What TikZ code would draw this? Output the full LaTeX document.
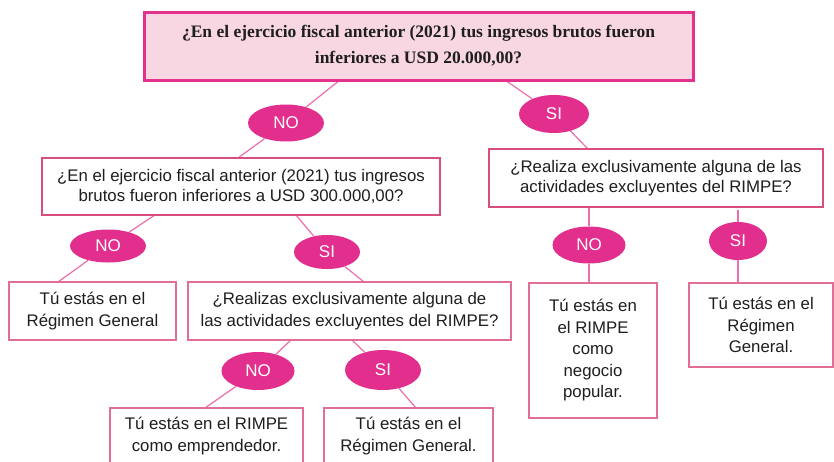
\documentclass[tikz,border=0pt]{standalone}
\usepackage{fontspec}
\setmainfont{Liberation Sans}
\newfontfamily\serifb{Liberation Serif}
\usetikzlibrary{shapes.geometric}
\definecolor{mag}{RGB}{226,46,140}
\definecolor{topfill}{RGB}{248,215,227}
\definecolor{topb}{RGB}{228,50,140}
\definecolor{thickb}{RGB}{216,78,124}
\definecolor{thinb}{RGB}{224,110,150}
\definecolor{conncol}{RGB}{236,110,170}
\definecolor{txt}{RGB}{30,30,30}
\tikzset{
  qtop/.style={draw=topb, line width=3pt, fill=topfill, align=center, text=txt, inner sep=0pt,
    font=\serifb\bfseries\fontsize{17.5}{26}\selectfont},
  qbox/.style={draw=thickb, line width=2.6pt, fill=white, align=center, text=txt, inner sep=0pt,
    font=\fontsize{16.8}{20.5}\selectfont},
  rbox/.style={draw=thinb, line width=1.2pt, fill=white, align=center, text=txt, inner sep=0pt,
    font=\fontsize{16.8}{21.5}\selectfont},
  ans/.style={ellipse, fill=mag, text=white, inner sep=0pt, font=\fontsize{17}{19}\selectfont},
  conn/.style={draw=conncol, line width=1.2pt}
}
\begin{document}
\begin{tikzpicture}[x=1pt,y=-1pt]
\useasboundingbox (0,0) rectangle (834,461);
\clip (0,0) rectangle (834,461);
\fill[white] (0,0) rectangle (834,461);
% answer ellipses
\node[ans, minimum width=76pt, minimum height=37pt] (n1) at (286,123) {NO};
\node[ans, minimum width=70pt, minimum height=38pt] (s1) at (554,114) {SI};
\node[ans, minimum width=76pt, minimum height=33pt] (n2) at (108,246) {NO};
\node[ans, minimum width=66pt, minimum height=34pt] (s2) at (327,252) {SI};
\node[ans, minimum width=73pt, minimum height=38pt] (n3) at (258,371) {NO};
\node[ans, minimum width=76pt, minimum height=40pt] (s3) at (383,370) {SI};
\node[ans, minimum width=73pt, minimum height=37pt] (n4) at (589,245) {NO};
\node[ans, minimum width=58pt, minimum height=38pt] (s4) at (738,241) {SI};
% connector end points on boxes
\coordinate (a1) at (340,80);
\coordinate (a2) at (505,80);
\coordinate (b1) at (238,158);
\coordinate (b2) at (588,149);
\coordinate (c1) at (155,215);
\coordinate (c2) at (296,215);
\coordinate (d1) at (58,282);
\coordinate (d2) at (364,282);
\coordinate (e1) at (291,340);
\coordinate (e2) at (352,340);
\coordinate (f1) at (205,408);
\coordinate (f2) at (416,408);
\coordinate (g1) at (589,207);
\coordinate (g2) at (589,283);
\coordinate (h1) at (738,210);
\coordinate (h2) at (738,283);
\draw[conn] (a1) -- (n1);
\draw[conn] (n1) -- (b1);
\draw[conn] (a2) -- (s1);
\draw[conn] (s1) -- (b2);
\draw[conn] (c1) -- (n2);
\draw[conn] (n2) -- (d1);
\draw[conn] (c2) -- (s2);
\draw[conn] (s2) -- (d2);
\draw[conn] (e1) -- (n3);
\draw[conn] (n3) -- (f1);
\draw[conn] (e2) -- (s3);
\draw[conn] (s3) -- (f2);
\draw[conn] (g1) -- (n4);
\draw[conn] (n4) -- (g2);
\draw[conn] (h1) -- (s4);
\draw[conn] (s4) -- (h2);
% boxes
\node[qtop, minimum width=549pt, minimum height=68pt] (q1) at (418.5,46)
  {¿En el ejercicio fiscal anterior (2021) tus ingresos brutos fueron\\inferiores a USD 20.000,00?};
\node[qbox, minimum width=398pt, minimum height=57pt] (q2) at (241,186.5)
  {¿En el ejercicio fiscal anterior (2021) tus ingresos\\brutos fueron inferiores a USD 300.000,00?};
\node[qbox, minimum width=334pt, minimum height=58pt] (q3) at (656,178)
  {¿Realiza exclusivamente alguna de las\\actividades excluyentes del RIMPE?};
\node[rbox, minimum width=167pt, minimum height=58pt] (r4) at (92.5,311)
  {Tú estás en el\\Régimen General};
\node[rbox, minimum width=323pt, minimum height=58pt] (q5) at (349.5,311)
  {¿Realizas exclusivamente alguna de\\las actividades excluyentes del RIMPE?};
\node[rbox, minimum width=193pt, minimum height=56pt] (r6) at (206.5,436)
  {Tú estás en el RIMPE\\como emprendedor.};
\node[rbox, minimum width=169pt, minimum height=56pt] (r7) at (408.5,436)
  {Tú estás en el\\Régimen General.};
\node[rbox, minimum width=128pt, minimum height=135pt] (r8) at (593,350.5)
  {Tú estás en\\el RIMPE\\como\\negocio\\popular.};
\node[rbox, minimum width=144pt, minimum height=84pt] (r9) at (761,325)
  {Tú estás en el\\Régimen\\General.};
\end{tikzpicture}
\end{document}
